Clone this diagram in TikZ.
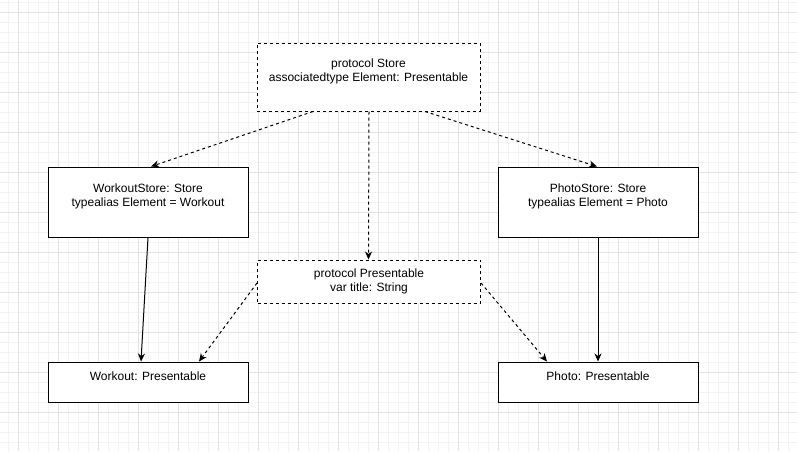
\documentclass[tikz,border=0pt]{standalone}
\usepackage{fontspec}
\setmainfont{Liberation Sans}
\usetikzlibrary{arrows.meta}
\definecolor{gridminor}{HTML}{F3F3F3}
\definecolor{gridmajor}{HTML}{E3E3E3}
\tikzset{
  box/.style={draw=black, line width=1pt, fill=white, inner sep=0pt, minimum width=200pt, minimum height=70pt},
  dbox/.style={box, dash pattern=on 3pt off 3pt},
  txt/.style={align=center, inner sep=0pt, font=\fontsize{12}{14}\selectfont},
  conn/.style={line width=1pt, -{Stealth[length=8pt,width=7pt,inset=2.5pt]}},
  dconn/.style={conn, dash pattern=on 3pt off 3pt},
}
\begin{document}
\begin{tikzpicture}[x=1pt,y=-1pt]
\useasboundingbox (0,0) rectangle (797,451);
\fill[white] (0,0) rectangle (797,451);
% grid
\foreach \i in {0,...,79} {\draw[gridminor, line width=0.8pt] ({8+10*\i},0) -- ({8+10*\i},451);}
\foreach \i in {0,...,44} {\draw[gridminor, line width=0.8pt] (0,{2+10*\i}) -- (797,{2+10*\i});}
\foreach \i in {0,...,19} {\draw[gridmajor, line width=0.8pt] ({18+40*\i},0) -- ({18+40*\i},451);}
\foreach \i in {0,...,11} {\draw[gridmajor, line width=0.8pt] (0,{12+40*\i}) -- (797,{12+40*\i});}

% boxes
\node[dbox, minimum width=223pt, minimum height=68pt] (store) at (368.5,77) {};
\node[box] (ws) at (148,202) {};
\node[box] (ps) at (598,202) {};
\node[dbox, minimum width=223pt, minimum height=43pt] (pres) at (369,281.5) {};
\node[box, minimum height=40pt] (w) at (148,382) {};
\node[box, minimum height=40pt] (p) at (598,382) {};

% texts
\node[txt] (storeT) at (368.5,71) {protocol Store\\associatedtype Element: Presentable};
\node[txt] (wsT) at (148,196) {WorkoutStore: Store\\typealias Element = Workout};
\node[txt] (psT) at (598,196) {PhotoStore: Store\\typealias Element = Photo};
\node[txt] (presT) at (369,281.5) {protocol Presentable\\var title: String};
\node[txt] (wT) at (148,376) {Workout: Presentable};
\node[txt] (pT) at (598,376) {Photo: Presentable};

% connectors
\draw[dconn] ([xshift=-55.5pt]store.south) -- ([xshift=3pt]ws.north);
\draw[dconn] ([xshift=56.5pt]store.south) -- ([xshift=-1pt]ps.north);
\draw[dconn] ([xshift=0.5pt]store.south) -- (store.south |- pres.north);
\draw[conn] (ws.south) -- ([xshift=-7pt]w.north);
\draw[conn] (ps.south) -- (p.north);
\draw[dconn] ([yshift=-1.5pt]pres.west) -- ([xshift=51pt]w.north);
\draw[dconn] ([yshift=-1.5pt]pres.east) -- ([xshift=-51pt]p.north);
\end{tikzpicture}
\end{document}
